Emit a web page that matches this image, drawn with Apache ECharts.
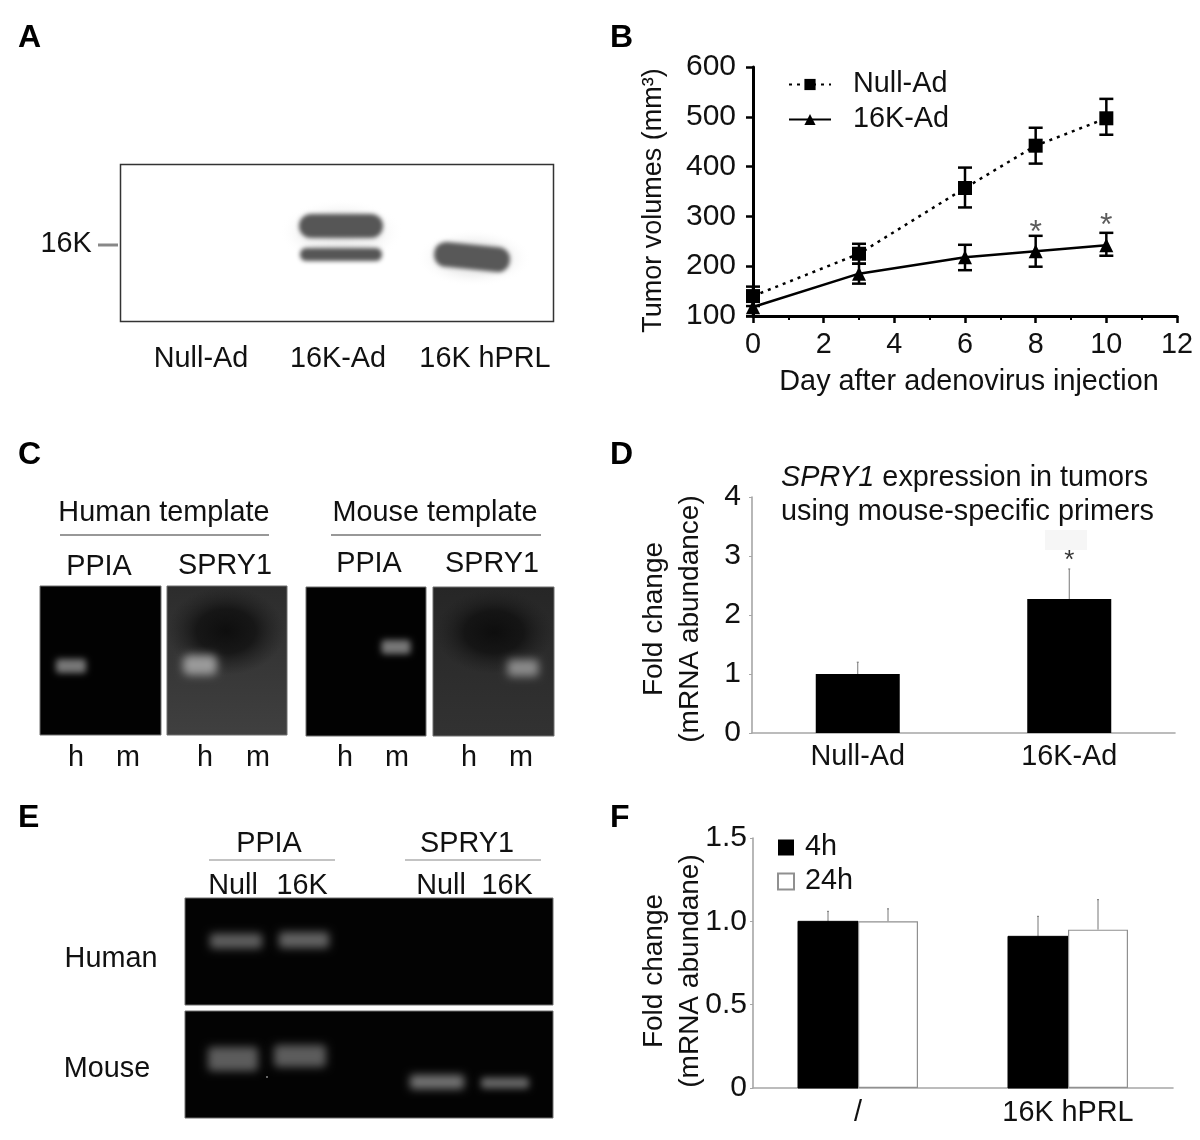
<!DOCTYPE html>
<html><head><meta charset="utf-8">
<style>html,body{margin:0;background:#fff}#c{width:1200px;height:1140px}</style>
<script src="https://cdn.jsdelivr.net/npm/echarts@6/dist/echarts.min.js"></script>
</head><body><div id="c"></div>
<script>
// Panel B
const daysB = [0, 3, 6, 8, 10];
const nullAd = [140, 225, 357, 442, 497];
const nullLow = [120, 205, 318, 406, 464];
const nullHigh = [159, 245, 398, 478, 536];
const k16Ad = [118, 185, 218, 230, 242];
const k16Low = [100, 165, 192, 199, 221];
const k16High = [135, 205, 243, 261, 267];
const starsB = [[8, 258], [10, 272]];
// Panel D
const catsD = ['Null-Ad', '16K-Ad'];
const valuesD = [1.0, 2.27];
const highD = [1.2, 2.78];
// Panel F
const catsF = ['/', '16K hPRL'];
const values4h = [1.0, 0.91];
const values24h = [1.0, 0.95];
const high4h = [1.06, 1.03];
const high24h = [1.075, 1.13];

const FONT = '"Liberation Sans", Arial, sans-serif';
const TS = 28.8;
const txt = (text, x, y, size, extra) => ({
  type: 'text', x, y: y + 2, silent: true,
  style: Object.assign({text, fontSize: size || TS, fontFamily: FONT, fill: '#111',
    textAlign: 'center', textVerticalAlign: 'middle'}, extra || {})
});
const letter = (t, x, y) => txt(t, x, y, 32, {fontWeight: 'bold', textAlign: 'left', fill: '#000'});
const blob = (cx, cy, w, h, stops, rot) => ({
  type: 'circle', x: cx, y: cy, silent: true, scaleX: w / 100, scaleY: h / 100, rotation: rot || 0,
  shape: {cx: 0, cy: 0, r: 50},
  style: {fill: {type: 'radial', x: .5, y: .5, r: .5, colorStops: stops.map(s => ({offset: s[0], color: s[1]}))}}
});
// a band is the blurred shadow of a rounded box parked off the page
const OFF = 3000;
const band = (cx, cy, w, h, color, blur, r, rot) => ({
  type: 'rect', x: cx - OFF, y: cy, silent: true, rotation: rot || 0,
  shape: {x: -w / 2, y: -h / 2, width: w, height: h, r: r === undefined ? h / 3 : r},
  style: {fill: color, shadowBlur: blur, shadowColor: color, shadowOffsetX: OFF}
});
const gel = (x, y, w, h, fill) => ({
  type: 'rect', silent: true, shape: {x, y, width: w, height: h},
  style: {fill: fill || '#020202', stroke: '#6e6e6e', lineWidth: 1}
});
const seg = (x1, x2, y, color) => ({
  type: 'line', silent: true, shape: {x1, y1: y, x2, y2: y}, style: {stroke: color || '#333', lineWidth: 1.2}
});
const halo = [[0, 'rgba(170,170,170,.3)'], [.6, 'rgba(190,190,190,.2)'], [1, 'rgba(255,255,255,0)']];
const grayBg = (a, b) => ({type: 'linear', x: 0, y: 0, x2: 0, y2: 1, colorStops: [{offset: 0, color: a}, {offset: 1, color: b}]});
const darkHole = [[0, 'rgba(12,12,12,.95)'], [.5, 'rgba(16,16,16,.8)'], [.8, 'rgba(26,26,26,.35)'], [1, 'rgba(30,30,30,0)']];

const gelGraphics = [
  letter('A', 18, 36), letter('B', 610, 36), letter('C', 18, 453),
  letter('D', 610, 453), letter('E', 18, 816), letter('F', 610, 816),
  // panel A
  {type: 'rect', silent: true, shape: {x: 120.5, y: 164.5, width: 433, height: 157}, style: {fill: '#fff', stroke: '#333', lineWidth: 1.5}},
  blob(341, 232, 124, 66, halo),
  blob(474, 258, 116, 58, halo),
  band(341, 226, 84, 24, '#565656', 4, 12),
  band(341, 254.5, 82, 13, '#565656', 4, 6),
  band(472, 257, 76, 25, '#585858', 4, 12, -0.1),
  {type: 'line', silent: true, shape: {x1: 98, y1: 245, x2: 118, y2: 245}, style: {stroke: '#888', lineWidth: 3}},
  txt('16K', 66, 242),
  txt('Null-Ad', 201, 357),
  txt('16K-Ad', 338, 357),
  txt('16K hPRL', 485, 357),
  // panel C
  txt('Human template', 164, 511), seg(60, 269, 535),
  txt('Mouse template', 435, 511), seg(331, 541, 535),
  txt('PPIA', 99, 565), txt('SPRY1', 225, 564),
  txt('PPIA', 369, 562), txt('SPRY1', 492, 562),
  gel(40, 586, 121, 149),
  gel(167, 586, 120, 149, grayBg('#2c2c2c', '#404040')),
  gel(306, 587, 120, 149),
  gel(433, 587, 121, 149, grayBg('#262626', '#323232')),
  blob(226, 631, 118, 88, darkHole),
  blob(494, 632, 118, 84, darkHole),
  band(71, 666, 30, 14, '#777777', 6, 3),
  band(200, 665, 34, 20, '#9a9a9a', 9, 6),
  band(396, 647, 29, 14, '#777777', 6, 3),
  band(523, 668, 31, 17, '#8a8a8a', 8, 4),
  txt('h', 76, 756), txt('m', 128, 756), txt('h', 205, 756), txt('m', 258, 756),
  txt('h', 345, 756), txt('m', 397, 756), txt('h', 469, 756), txt('m', 521, 756),
  // panel E
  txt('PPIA', 269, 842), seg(209, 335, 860, '#888'),
  txt('SPRY1', 467, 842), seg(405, 541, 860, '#888'),
  txt('Null', 233, 884), txt('16K', 302, 884),
  txt('Null', 441, 884), txt('16K', 507, 884),
  txt('Human', 111, 957), txt('Mouse', 107, 1067),
  gel(185, 898, 368, 107, '#030303'),
  gel(185, 1011, 368, 107, '#030303'),
  band(236, 941, 52, 15, '#5e5e5e', 8, 3),
  band(304, 940, 50, 16, '#626262', 8, 3),
  band(233, 1059, 50, 24, '#5c5c5c', 8, 4),
  band(300, 1056, 52, 22, '#5c5c5c', 8, 4),
  band(437, 1082, 54, 14, '#747474', 8, 3),
  band(505, 1083, 48, 11, '#666666', 7, 3),
  {type: 'circle', silent: true, shape: {cx: 267, cy: 1077, r: 1}, style: {fill: '#888'}},
  // panel D shaded patch behind the star
  {type: 'rect', silent: true, z: -1, shape: {x: 1045, y: 530, width: 42, height: 20}, style: {fill: '#f6f6f6'}}
];

const errorSeries = (xAxisIndex, yAxisIndex, rows, opt) => ({
  type: 'custom', xAxisIndex, yAxisIndex, clip: false, silent: true, z: opt.z || 1,
  encode: {x: 0, y: [1, 2]}, data: rows,
  renderItem(params, api) {
    const x = api.coord([api.value(0), api.value(1)])[0] + (opt.offset || 0);
    const lo = api.coord([api.value(0), api.value(1)])[1];
    const hi = api.coord([api.value(0), api.value(2)])[1];
    const cap = opt.cap, st = {stroke: opt.color, lineWidth: opt.width, fill: 'none'};
    const ch = [{type: 'line', shape: {x1: x, y1: lo, x2: x, y2: hi}, style: st},
                {type: 'line', shape: {x1: x - cap, y1: hi, x2: x + cap, y2: hi}, style: st}];
    if (opt.both) ch.push({type: 'line', shape: {x1: x - cap, y1: lo, x2: x + cap, y2: lo}, style: st});
    return {type: 'group', children: ch};
  }
});

const thin = {lineStyle: {color: '#a6a6a6', width: 1.6}};
const labelStyle = {color: '#111', fontSize: TS, fontFamily: FONT};
const nameStyle = (pad, size) => ({fontSize: size || TS, color: '#111', lineHeight: 36, fontFamily: FONT, padding: [0, pad, 0, 0]});
const option = {
  animation: false, backgroundColor: '#fff', textStyle: {fontFamily: FONT},
  graphic: {elements: gelGraphics},
  title: [{
    text: '{i|SPRY1} expression in tumors\nusing mouse-specific primers',
    left: 776, top: 456,
    textStyle: {fontSize: TS, fontWeight: 'normal', color: '#111', fontFamily: FONT, lineHeight: 34,
      rich: {i: {fontStyle: 'italic', fontSize: TS, color: '#111', fontFamily: FONT}}}
  }],
  legend: [
    {data: ['Null-Ad', '16K-Ad'], orient: 'vertical', left: 783, top: 65, itemWidth: 42, itemHeight: 14, itemGap: 6,
     textStyle: {fontSize: TS, color: '#111', fontFamily: FONT, padding: [0, 0, 0, 17]}},
    {data: ['4h', '24h'], orient: 'vertical', left: 772, top: 828, icon: 'rect', itemWidth: 16, itemHeight: 16, itemGap: 5,
     textStyle: {fontSize: TS, color: '#111', fontFamily: FONT, padding: [0, 0, 0, 6]}}
  ],
  grid: [
    {left: 753, top: 67, width: 424, height: 249},
    {left: 752, top: 497, width: 423, height: 236},
    {left: 753, top: 838, width: 420, height: 250}
  ],
  xAxis: [
    {gridIndex: 0, type: 'value', min: 0, max: 12, interval: 2, name: 'Day after adenovirus injection',
     nameLocation: 'middle', nameGap: 52, nameTextStyle: {fontSize: TS, color: '#111', fontFamily: FONT, padding: [0, 0, 0, 8]},
     axisLine: {onZero: false, lineStyle: {color: '#000', width: 3}},
     axisTick: {length: 7, lineStyle: {color: '#000', width: 2.5}},
     minorTick: {show: true, splitNumber: 2, length: 4, lineStyle: {color: '#000', width: 2}},
     splitLine: {show: false}, axisLabel: Object.assign({margin: 15}, labelStyle)},
    {gridIndex: 1, type: 'category', data: catsD, axisLine: thin, axisTick: {length: 2, lineStyle: {color: '#a6a6a6'}},
     axisLabel: Object.assign({margin: 10}, labelStyle)},
    {gridIndex: 2, type: 'category', data: catsF, axisLine: thin, axisTick: {length: 2, lineStyle: {color: '#a6a6a6'}},
     axisLabel: Object.assign({margin: 11}, labelStyle)}
  ],
  yAxis: [
    {gridIndex: 0, type: 'value', min: 100, max: 600, interval: 100, name: 'Tumor volumes (mm³)',
     nameLocation: 'middle', nameGap: 81, nameMoveOverlap: false, nameTextStyle: nameStyle(18, 27),
     axisLine: {show: true, onZero: false, lineStyle: {color: '#000', width: 3}},
     axisTick: {show: true, length: 7, lineStyle: {color: '#000', width: 2.5}},
     splitLine: {show: false}, axisLabel: Object.assign({margin: 17}, labelStyle, {fontSize: 30, padding: [5, 0, 0, 0]})},
    {gridIndex: 1, type: 'value', min: 0, max: 4, interval: 1, name: 'Fold change\n(mRNA abundance)',
     nameLocation: 'middle', nameGap: 44, nameMoveOverlap: false, nameTextStyle: nameStyle(8, 28),
     axisLine: Object.assign({show: true}, thin), axisTick: {show: true, length: 3, lineStyle: {color: '#a6a6a6'}},
     splitLine: {show: false}, axisLabel: Object.assign({margin: 11}, labelStyle, {fontSize: 30, padding: [5, 0, 0, 0]})},
    {gridIndex: 2, type: 'value', min: 0, max: 1.5, interval: .5, name: 'Fold change\n(mRNA abundane)',
     nameLocation: 'middle', nameGap: 45, nameMoveOverlap: false, nameTextStyle: nameStyle(16, 28),
     axisLine: Object.assign({show: true}, thin), axisTick: {show: true, length: 3, lineStyle: {color: '#a6a6a6'}},
     splitLine: {show: false},
     axisLabel: Object.assign({margin: 6, formatter: v => v === 0 ? '0' : v.toFixed(1)}, labelStyle, {fontSize: 30})}
  ],
  series: [
    {name: 'Null-Ad', type: 'line', xAxisIndex: 0, yAxisIndex: 0, clip: false, z: 3,
     data: daysB.map((d, i) => [d, nullAd[i]]), symbol: 'rect', symbolSize: 14,
     lineStyle: {color: '#000', width: 2.5, type: [3, 5]}, itemStyle: {color: '#000'}},
    {name: '16K-Ad', type: 'line', xAxisIndex: 0, yAxisIndex: 0, clip: false, z: 3,
     data: daysB.map((d, i) => [d, k16Ad[i]]), symbol: 'triangle', symbolSize: 14,
     lineStyle: {color: '#000', width: 2.5}, itemStyle: {color: '#000'}},
    errorSeries(0, 0, daysB.map((d, i) => [d, nullLow[i], nullHigh[i]]), {cap: 7, width: 2.5, color: '#000', both: true}),
    errorSeries(0, 0, daysB.map((d, i) => [d, k16Low[i], k16High[i]]), {cap: 7, width: 2.5, color: '#000', both: true}),
    {type: 'scatter', xAxisIndex: 0, yAxisIndex: 0, data: starsB, symbolSize: 0, silent: true,
     label: {show: true, position: 'top', distance: -12, formatter: '*', fontSize: 32, color: '#333', fontFamily: FONT}},

    {type: 'bar', xAxisIndex: 1, yAxisIndex: 1, data: valuesD, barWidth: 84, itemStyle: {color: '#000'}, z: 2},
    errorSeries(1, 1, catsD.map((c, i) => [c, valuesD[i], highD[i]]), {cap: 1, width: 1, color: '#777'}),
    {type: 'scatter', xAxisIndex: 1, yAxisIndex: 1, data: [['16K-Ad', highD[1]]], symbolSize: 0, silent: true,
     label: {show: true, position: 'top', distance: -5, formatter: '*', fontSize: 26, color: '#000', fontFamily: FONT}},

    {name: '4h', type: 'bar', xAxisIndex: 2, yAxisIndex: 2, data: values4h, barWidth: 60, barGap: 0,
     itemStyle: {color: '#000', borderColor: '#000'}},
    {name: '24h', type: 'bar', xAxisIndex: 2, yAxisIndex: 2, data: values24h, barWidth: 60, barGap: 0,
     itemStyle: {color: '#fff', borderColor: '#909090', borderWidth: 1.2}},
    errorSeries(2, 2, catsF.map((c, i) => [c, values4h[i], high4h[i]]), {cap: 1, width: 1, color: '#777', offset: -30}),
    errorSeries(2, 2, catsF.map((c, i) => [c, values24h[i], high24h[i]]), {cap: 1, width: 1, color: '#777', offset: 30})
  ]
};
echarts.init(document.getElementById('c'), null, {renderer: 'canvas'}).setOption(option);
</script></body></html>
